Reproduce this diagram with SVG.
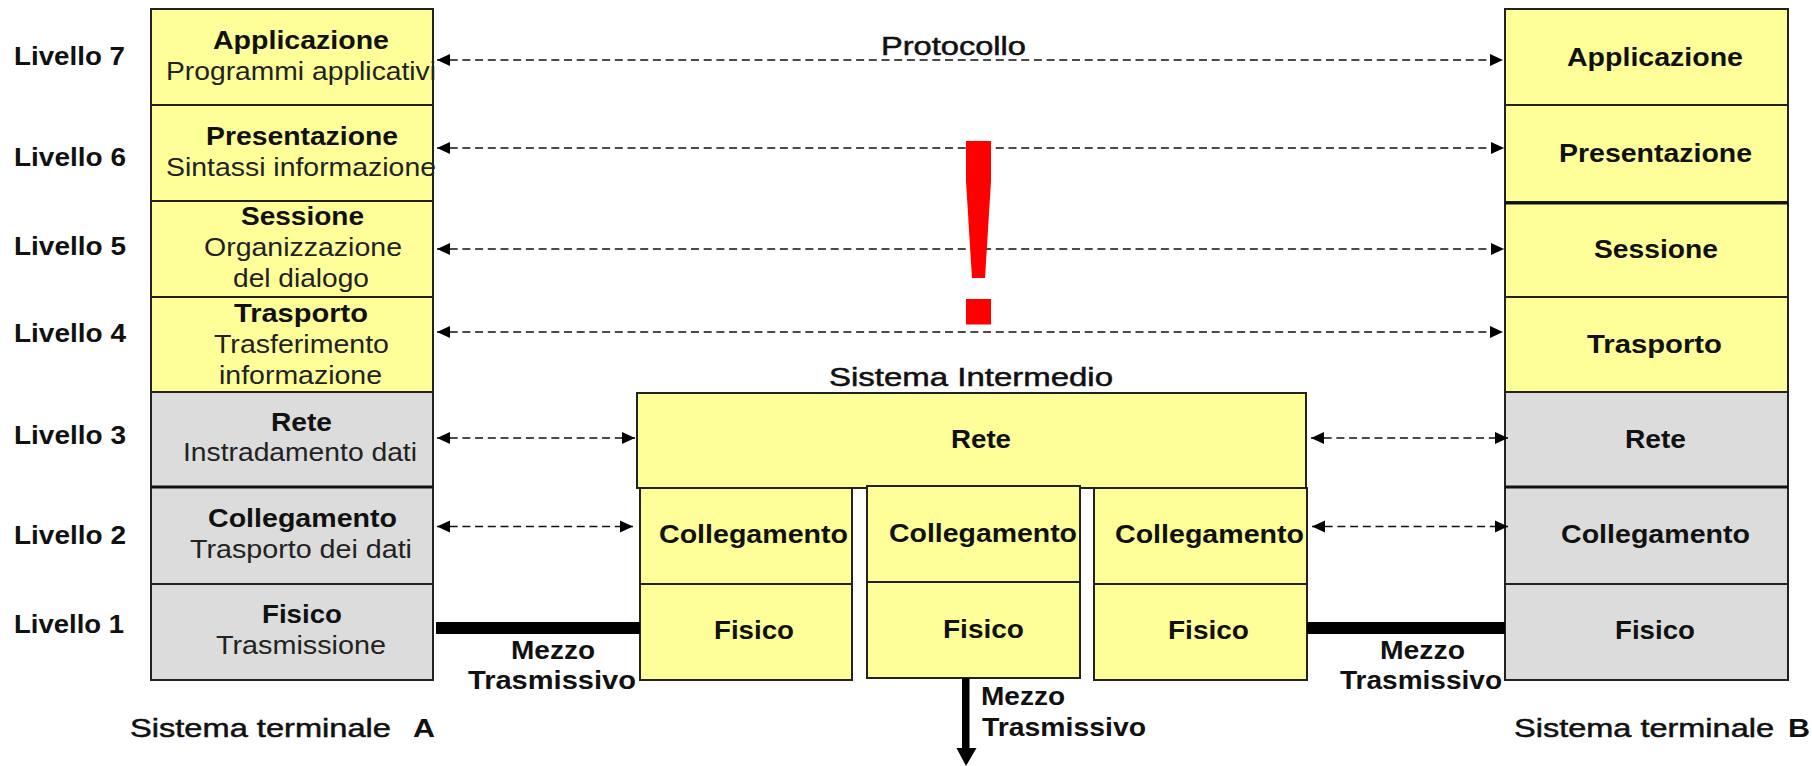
<svg xmlns="http://www.w3.org/2000/svg" width="1812" height="766" viewBox="0 0 1812 766">
<style>
text{font-family:"Liberation Sans",Arial,sans-serif;font-size:26px;fill:#111;text-anchor:start}
.b{font-weight:bold}
.r{fill:#222}
.m{stroke:#111;stroke-width:.5}
.y{fill:#ffff99;stroke:#222;stroke-width:2}
.g{fill:#dcdcdc;stroke:#222;stroke-width:2}
.t{stroke:#111;stroke-width:3;fill:none}
.d{stroke:#111;stroke-width:1.6;stroke-dasharray:8 4.7;fill:none;marker-start:url(#s);marker-end:url(#e)}
</style>
<defs>
<marker id="e" markerUnits="userSpaceOnUse" markerWidth="14" markerHeight="14" refX="13" refY="7" orient="auto"><path d="M0 1L13 7L0 13Z" fill="#000"/></marker>
<marker id="s" markerUnits="userSpaceOnUse" markerWidth="14" markerHeight="14" refX="1" refY="7" orient="auto"><path d="M14 1L1 7L14 13Z" fill="#000"/></marker>
</defs>
<g id="levels">
<text class="b" lengthAdjust="spacingAndGlyphs" x="14" y="65" textLength="111">Livello 7</text>
<text class="b" lengthAdjust="spacingAndGlyphs" x="14" y="166" textLength="112">Livello 6</text>
<text class="b" lengthAdjust="spacingAndGlyphs" x="14" y="255" textLength="112">Livello 5</text>
<text class="b" lengthAdjust="spacingAndGlyphs" x="14" y="342" textLength="112">Livello 4</text>
<text class="b" lengthAdjust="spacingAndGlyphs" x="14" y="444" textLength="112">Livello 3</text>
<text class="b" lengthAdjust="spacingAndGlyphs" x="14" y="544" textLength="112">Livello 2</text>
<text class="b" lengthAdjust="spacingAndGlyphs" x="14" y="633" textLength="110">Livello 1</text>
</g>
<g id="a7"><rect class="y" x="151" y="9" width="282" height="96"/><text class="b" lengthAdjust="spacingAndGlyphs" x="213" y="49" textLength="176">Applicazione</text><text class="r" lengthAdjust="spacingAndGlyphs" x="166" y="80" textLength="270">Programmi applicativi</text></g>
<g id="a6"><rect class="y" x="151" y="105" width="282" height="96"/><text class="b" lengthAdjust="spacingAndGlyphs" x="206" y="145" textLength="192">Presentazione</text><text class="r" lengthAdjust="spacingAndGlyphs" x="166" y="176" textLength="270">Sintassi informazione</text></g>
<g id="a5"><rect class="y" x="151" y="201" width="282" height="96"/><text class="b" lengthAdjust="spacingAndGlyphs" x="241" y="225" textLength="123">Sessione</text><text class="r" lengthAdjust="spacingAndGlyphs" x="204" y="256" textLength="198">Organizzazione</text><text class="r" lengthAdjust="spacingAndGlyphs" x="233" y="287" textLength="136">del dialogo</text></g>
<g id="a4"><rect class="y" x="151" y="297" width="282" height="95"/><text class="b" lengthAdjust="spacingAndGlyphs" x="234" y="322" textLength="134">Trasporto</text><text class="r" lengthAdjust="spacingAndGlyphs" x="214" y="353" textLength="175">Trasferimento</text><text class="r" lengthAdjust="spacingAndGlyphs" x="219" y="384" textLength="163">informazione</text></g>
<g id="a3"><rect class="g" x="151" y="392" width="282" height="95"/><text class="b" lengthAdjust="spacingAndGlyphs" x="271" y="431" textLength="61">Rete</text><text class="r" lengthAdjust="spacingAndGlyphs" x="183" y="461" textLength="234">Instradamento dati</text></g>
<g id="a2"><rect class="g" x="151" y="487" width="282" height="97"/><text class="b" lengthAdjust="spacingAndGlyphs" x="208" y="527" textLength="189">Collegamento</text><text class="r" lengthAdjust="spacingAndGlyphs" x="190" y="558" textLength="222">Trasporto dei dati</text></g>
<g id="a1"><rect class="g" x="151" y="584" width="282" height="96"/><text class="b" lengthAdjust="spacingAndGlyphs" x="262" y="623" textLength="80">Fisico</text><text class="r" lengthAdjust="spacingAndGlyphs" x="216" y="654" textLength="170">Trasmissione</text></g>
<g id="b7"><rect class="y" x="1505" y="9" width="283" height="96"/><text class="b" lengthAdjust="spacingAndGlyphs" x="1567" y="66" textLength="176">Applicazione</text></g>
<g id="b6"><rect class="y" x="1505" y="105" width="283" height="97"/><text class="b" lengthAdjust="spacingAndGlyphs" x="1559" y="162" textLength="193">Presentazione</text></g>
<g id="b5"><rect class="y" x="1505" y="202" width="283" height="95"/><text class="b" lengthAdjust="spacingAndGlyphs" x="1594" y="258" textLength="124">Sessione</text></g>
<g id="b4"><rect class="y" x="1505" y="297" width="283" height="95"/><text class="b" lengthAdjust="spacingAndGlyphs" x="1587" y="353" textLength="135">Trasporto</text></g>
<g id="b3"><rect class="g" x="1505" y="392" width="283" height="95"/><text class="b" lengthAdjust="spacingAndGlyphs" x="1625" y="448" textLength="61">Rete</text></g>
<g id="b2"><rect class="g" x="1505" y="487" width="283" height="97"/><text class="b" lengthAdjust="spacingAndGlyphs" x="1561" y="543" textLength="189">Collegamento</text></g>
<g id="b1"><rect class="g" x="1505" y="584" width="283" height="96"/><text class="b" lengthAdjust="spacingAndGlyphs" x="1615" y="639" textLength="80">Fisico</text></g>
<g id="mrete"><rect class="y" x="637" y="393" width="669" height="95"/><text class="b" lengthAdjust="spacingAndGlyphs" x="951" y="448" textLength="60">Rete</text></g>
<g id="m1"><rect class="y" x="640" y="488" width="212" height="96"/><rect class="y" x="640" y="584" width="212" height="96"/><text class="b" lengthAdjust="spacingAndGlyphs" x="659" y="543" textLength="189">Collegamento</text><text class="b" lengthAdjust="spacingAndGlyphs" x="714" y="639" textLength="80">Fisico</text></g>
<g id="m2"><rect class="y" x="867" y="486" width="213" height="96"/><rect class="y" x="867" y="582" width="213" height="96"/><text class="b" lengthAdjust="spacingAndGlyphs" x="889" y="542" textLength="188">Collegamento</text><text class="b" lengthAdjust="spacingAndGlyphs" x="943" y="638" textLength="81">Fisico</text></g>
<g id="m3"><rect class="y" x="1094" y="488" width="213" height="96"/><rect class="y" x="1094" y="584" width="213" height="96"/><text class="b" lengthAdjust="spacingAndGlyphs" x="1115" y="543" textLength="189">Collegamento</text><text class="b" lengthAdjust="spacingAndGlyphs" x="1168" y="639" textLength="81">Fisico</text></g>
<g id="connectors">
<line class="d" x1="437" y1="60" x2="1503" y2="60"/>
<line class="d" x1="437" y1="148" x2="1504" y2="148"/>
<line class="d" x1="437" y1="249" x2="1504" y2="249"/>
<line class="d" x1="437" y1="332" x2="1503" y2="332"/>
<line class="d" x1="437" y1="438" x2="635" y2="438"/>
<line class="d" x1="1311" y1="438" x2="1508" y2="438"/>
<line class="d" x1="437" y1="526.5" x2="633" y2="526.5"/>
<line class="d" x1="1312" y1="526.5" x2="1508" y2="526.5"/>
<rect x="436" y="622" width="204" height="12" fill="#000"/>
<rect x="1307" y="622" width="198" height="12" fill="#000"/>
<rect x="962" y="678" width="7.500" height="70" fill="#000"/>
<path d="M956.500 748H976.500L966 766Z" fill="#000"/>
<path class="t" d="M1505 203H1788M151 487H433M1505 487H1788"/>
</g>
<g id="labels">
<text class="m" lengthAdjust="spacingAndGlyphs" x="881" y="55" textLength="145">Protocollo</text>
<text class="m" lengthAdjust="spacingAndGlyphs" x="829" y="386" textLength="284">Sistema Intermedio</text>
<text class="b" lengthAdjust="spacingAndGlyphs" x="511" y="659" textLength="84">Mezzo</text>
<text class="b" lengthAdjust="spacingAndGlyphs" x="468" y="689" textLength="168">Trasmissivo</text>
<text class="b" lengthAdjust="spacingAndGlyphs" x="1380" y="659" textLength="85">Mezzo</text>
<text class="b" lengthAdjust="spacingAndGlyphs" x="1340" y="689" textLength="162">Trasmissivo</text>
<text class="b" lengthAdjust="spacingAndGlyphs" x="981" y="705" textLength="84">Mezzo</text>
<text class="b" lengthAdjust="spacingAndGlyphs" x="982" y="736" textLength="164">Trasmissivo</text>
<text class="m" lengthAdjust="spacingAndGlyphs" x="130" y="737" textLength="261">Sistema terminale</text>
<text class="b" lengthAdjust="spacingAndGlyphs" x="413" y="737" textLength="22">A</text>
<text class="m" lengthAdjust="spacingAndGlyphs" x="1514" y="737" textLength="260">Sistema terminale</text>
<text class="b" lengthAdjust="spacingAndGlyphs" x="1788" y="737" textLength="22">B</text>
</g>
<g id="bang"><path d="M966 141H991V181L985 278H972L966 181Z" fill="#f00"/><rect x="966" y="299" width="25" height="25.500" fill="#f00"/></g>
</svg>
